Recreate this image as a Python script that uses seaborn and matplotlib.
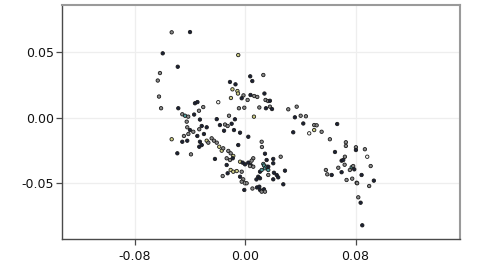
import matplotlib
matplotlib.use("Agg")
import matplotlib.pyplot as plt
import seaborn as sns
import pandas as pd

x_vals = [-0.0534, -0.0401, -0.0599, -0.0619, -0.0490, -0.0635, -0.0626, -0.0611, -0.0486, -0.0051,
          -0.0111, -0.0071, 0.0036, 0.0051, 0.0131, -0.0093, -0.0057, -0.0053, -0.0013, -0.0026,
          0.0017, 0.0038, 0.0065, 0.0087, 0.0139, 0.0147, 0.0165, 0.0179, -0.0104, -0.0196,
          -0.0046, -0.0007, 0.0102, 0.0063, 0.0150, 0.0179, 0.0194, -0.0365, -0.0347, -0.0305,
          -0.0336, -0.0457, -0.0437, -0.0414, -0.0371, -0.0329, -0.0425, -0.0207, -0.0118, -0.0075,
          -0.0421, -0.0401, -0.0377, -0.0334, -0.0316, -0.0280, -0.0300, -0.0184, -0.0147, -0.0128,
          -0.0099, -0.0154, -0.0082, -0.0038, 0.0022, -0.0534, -0.0445, -0.0413, -0.0457, -0.0421,
          -0.0348, -0.0329, -0.0334, -0.0316, -0.0280, -0.0268, -0.0244, -0.0227, -0.0207, -0.0051,
          -0.0189, -0.0171, -0.0160, -0.0123, -0.0106, -0.0087, -0.0220, -0.0135, -0.0111, -0.0091,
          -0.0038, -0.0019, -0.0002, 0.0022, 0.0039, 0.0058, 0.0046, 0.0119, 0.0121, 0.0143,
          0.0155, -0.0493, -0.0394, -0.0135, -0.0106, -0.0087, -0.0062, -0.0026, -0.0164, -0.0128,
          -0.0038, -0.0015, -0.0026, -0.0002, 0.0010, -0.0007, 0.0052, 0.0085, 0.0107, 0.0119,
          0.0102, 0.0136, 0.0143, 0.0107, 0.0094, 0.0081, 0.0107, 0.0131, 0.0136, 0.0143,
          0.0155, 0.0167, 0.0119, 0.0058, 0.0034, 0.0203, 0.0203, 0.0257, 0.0167, 0.0288,
          0.0167, 0.0208, 0.0228, 0.0239, 0.0203, 0.0276, 0.0312, 0.0373, 0.0360, 0.0402,
          0.0440, 0.0421, 0.0500, 0.0518, 0.0667, 0.0348, 0.0464, 0.0500, 0.0554, 0.0614,
          0.0730, 0.0730, 0.0803, 0.0803, 0.0868, 0.0885, 0.0651, 0.0723, 0.0699, 0.0711,
          0.0721, 0.0675, 0.0772, 0.0783, 0.0791, 0.0759, 0.0585, 0.0595, 0.0627, 0.0699,
          0.0910, 0.0844, 0.0735, 0.0776, 0.0808, 0.0812, 0.0933, 0.0899, 0.0820, 0.0837,
          0.0849]

y_vals = [0.0650, 0.0652, 0.0490, 0.0340, 0.0388, 0.0283, 0.0161, 0.0072, 0.0072, 0.0477,
          0.0272, 0.0254, 0.0315, 0.0279, 0.0325, 0.0216, 0.0203, 0.0184, 0.0170, 0.0148,
          0.0135, 0.0173, 0.0165, 0.0158, 0.0184, 0.0135, 0.0127, 0.0129, 0.0150, 0.0118,
          0.0072, 0.0076, 0.0078, 0.0008, 0.0072, 0.0084, 0.0066, 0.0110, 0.0119, 0.0081,
          0.0053, 0.0026, 0.0015, 0.0008, 0.0024, -0.0014, -0.0030, -0.0011, 0.0015, -0.0012,
          -0.0073, -0.0094, -0.0107, -0.0088, -0.0063, -0.0073, -0.0124, -0.0056, -0.0052, -0.0063,
          -0.0046, -0.0099, -0.0094, -0.0114, -0.0145, -0.0164, -0.0139, -0.0124, -0.0183, -0.0175,
          -0.0139, -0.0183, -0.0221, -0.0208, -0.0175, -0.0190, -0.0157, -0.0175, -0.0190, -0.0208,
          -0.0221, -0.0251, -0.0233, -0.0253, -0.0271, -0.0291, -0.0314, -0.0309, -0.0322, -0.0309,
          -0.0335, -0.0342, -0.0355, -0.0342, -0.0360, -0.0309, -0.0327, -0.0183, -0.0223, -0.0274,
          -0.0322, -0.0271, -0.0279, -0.0360, -0.0398, -0.0411, -0.0406, -0.0411, -0.0444, -0.0423,
          -0.0449, -0.0469, -0.0487, -0.0499, -0.0499, -0.0550, -0.0539, -0.0531, -0.0550, -0.0563,
          -0.0525, -0.0545, -0.0563, -0.0411, -0.0449, -0.0470, -0.0461, -0.0352, -0.0364, -0.0385,
          -0.0373, -0.0398, -0.0398, -0.0373, -0.0368, -0.0314, -0.0347, -0.0297, -0.0373, -0.0403,
          -0.0436, -0.0419, -0.0436, -0.0454, -0.0469, -0.0507, 0.0064, 0.0084, 0.0003, 0.0015,
          0.0011, -0.0044, -0.0056, -0.0058, -0.0048, -0.0111, -0.0119, -0.0094, -0.0107, -0.0164,
          -0.0187, -0.0215, -0.0225, -0.0246, -0.0240, -0.0297, -0.0261, -0.0297, -0.0327, -0.0322,
          -0.0358, -0.0381, -0.0377, -0.0368, -0.0393, -0.0398, -0.0398, -0.0431, -0.0436, -0.0415,
          -0.0368, -0.0436, -0.0474, -0.0464, -0.0495, -0.0499, -0.0479, -0.0520, -0.0606, -0.0647,
          -0.0819]

groups = list(
    "GDDGDGGGDY"
    "DDDDGYYYGD"
    "GDGGDGGDYW"
    "GGGYDGDDDG"
    "GGTGDDGDGD"
    "GDGGDDDDGG"
    "DDDDDYGGDD"
    "DDDDYGGGGD"
    "YYGGGYDGGD"
    "YDDDDGGGGD"
    "DDGDYYYGGD"
    "DGGWGDGDDG"
    "DDGDDDDTTT"
    "TTTGGDDGDD"
    "GDDDDDGGDG"
    "GDGGDDWYGG"
    "GGGDGWDGDD"
    "GGTGDGGGDD"
    "GDGGGGDGGD"
    "D"
)

palette = {"D": "#1c2236", "G": "#8a8a8a", "Y": "#cfcf86", "T": "#4f9e9e", "W": "#f4f4f0"}

df = pd.DataFrame({"x": x_vals, "y": y_vals, "g": groups})

plt.rcParams["axes.unicode_minus"] = False
fig = plt.figure(figsize=(4.8, 2.7), dpi=100)
ax = fig.add_axes([0.130, 0.114, 0.828, 0.8675])

sns.scatterplot(data=df, x="x", y="y", hue="g", palette=palette, ax=ax,
                s=6, edgecolor="#1a1a1a", linewidth=0.6, legend=False, zorder=3)

ax.set_xlim(-0.1327, 0.1557)
ax.set_ylim(-0.0925, 0.0858)
ax.set_xticks([-0.08, 0.0, 0.08])
ax.set_xticklabels(["-0.08", "0.00", "0.08"])
ax.set_yticks([-0.05, 0.0, 0.05])
ax.set_yticklabels(["-0.05", "0.00", "0.05"])
ax.set_xlabel("")
ax.set_ylabel("")
ax.grid(True, color="#eeeeee", linewidth=0.9, zorder=0)
ax.set_axisbelow(True)
ax.set_facecolor("white")

for side in ["left", "bottom"]:
    ax.spines[side].set_color("#4a4a4a")
    ax.spines[side].set_linewidth(1.0)
for side in ["top", "right"]:
    ax.spines[side].set_color("#9a9a9a")
    ax.spines[side].set_linewidth(1.5)

ax.tick_params(axis="both", length=4, width=0.9, color="#4a4a4a", labelsize=9, labelcolor="#111111")
ax.tick_params(axis="x", pad=4)
ax.tick_params(axis="y", pad=2)

fig.savefig("out.png", dpi=100)
